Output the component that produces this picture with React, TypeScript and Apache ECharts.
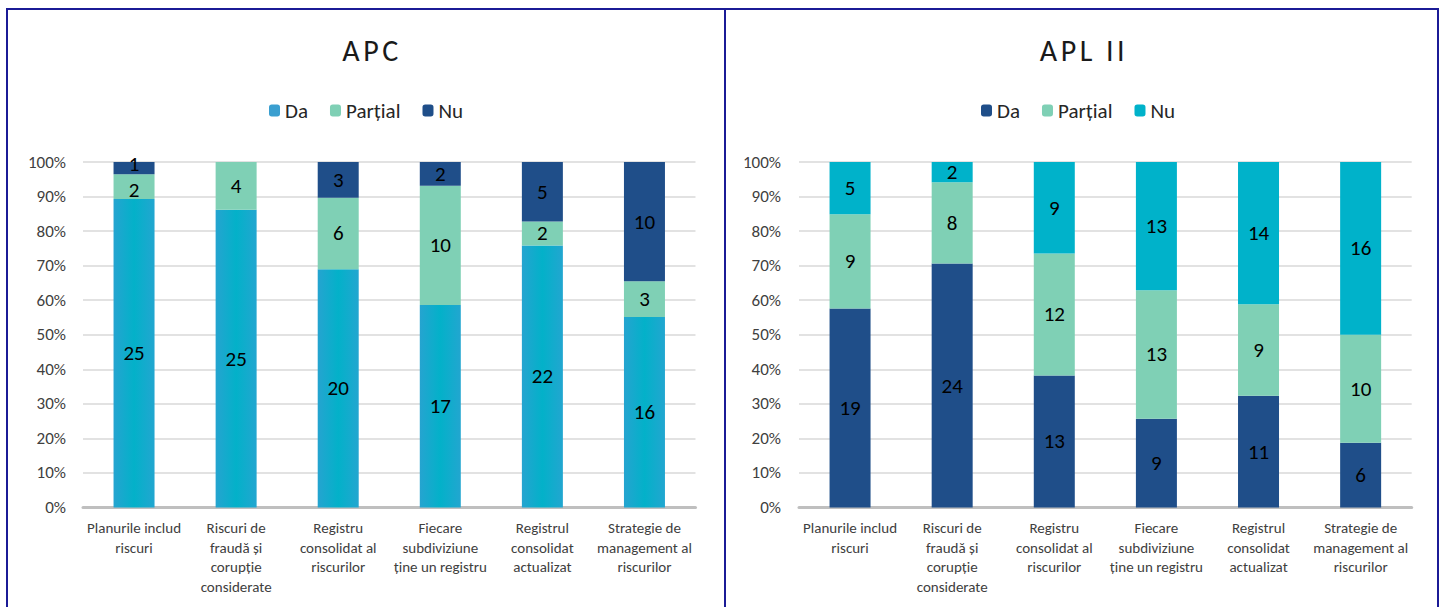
import React, { useEffect, useRef } from "react";
import * as echarts from "echarts";

const categories = [
  "Planurile includ\nriscuri",
  "Riscuri de\nfraudă și\ncorupție\nconsiderate",
  "Registru\nconsolidat al\nriscurilor",
  "Fiecare\nsubdiviziune\nține un registru",
  "Registrul\nconsolidat\nactualizat",
  "Strategie de\nmanagement al\nriscurilor",
];
const seriesNames = ["Da", "Parțial", "Nu"];

const apcDa = [25, 25, 20, 17, 22, 16];
const apcPartial = [2, 4, 6, 10, 2, 3];
const apcNu = [1, 0, 3, 2, 5, 10];

const aplDa = [19, 24, 13, 9, 11, 6];
const aplPartial = [9, 8, 12, 13, 9, 10];
const aplNu = [5, 2, 9, 13, 14, 16];

const FONT = "Carlito, Calibri, Lato, sans-serif";

type Layout = {
  title: string;
  titleX: number;
  legendLeft: number;
  gridLeft: number;
  gridRight: number;
  labelMargin: number;
};

function buildOption(
  layout: Layout,
  groups: number[][],
  colors: any[],
  legendColors: string[]
) {
  const totals = categories.map((_, i) =>
    groups.reduce((s, g) => s + g[i], 0)
  );
  const pctOf = (k: number, i: number) =>
    groups[k] ? (groups[k][i] / totals[i]) * 100 : 0;
  const series = groups.map((g, k) => ({
    name: seriesNames[k],
    type: "bar",
    stack: "total",
    barWidth: 41,
    data: g.map((v, i) => {
      const pct = pctOf(k, i);
      const above = pctOf(k + 1, i);
      // very thin segments: nudge neighbouring labels apart so they do not collide
      if (pct > 0 && pct < 4) return { value: pct, label: { offset: [0, -4] } };
      if (above > 0 && above < 4) return { value: pct, label: { offset: [0, 3] } };
      return pct;
    }),
    itemStyle: { color: colors[k] },
    label: {
      show: true,
      position: "inside",
      fontFamily: FONT,
      fontSize: 21,
      lineHeight: 16,
      color: "#000",
      formatter: (p: any) => (g[p.dataIndex] === 0 ? "" : String(g[p.dataIndex])),
    },
    emphasis: { disabled: true },
  }));
  return {
    animation: false,
    textStyle: { fontFamily: FONT },
    title: {
      text: layout.title,
      left: layout.titleX,
      textAlign: "center",
      top: 30,
      textStyle: {
        fontFamily: FONT,
        fontSize: 30,
        fontWeight: "normal",
        color: "#1a1a1a",
      },
    },
    legend: {
      left: layout.legendLeft,
      top: 95,
      itemWidth: 11,
      itemHeight: 12,
      itemGap: 22,
      textStyle: { fontFamily: FONT, fontSize: 21, color: "#262626" },
      data: seriesNames.map((n, k) => ({
        name: n,
        itemStyle: { color: legendColors[k] },
      })),
      selectedMode: false,
    },
    grid: {
      left: layout.gridLeft,
      right: layout.gridRight,
      top: 162,
      bottom: 99.5,
      containLabel: false,
    },
    xAxis: {
      type: "category",
      data: categories,
      axisTick: { show: false },
      axisLine: { lineStyle: { color: "#BFBFBF", width: 3 } },
      axisLabel: {
        interval: 0,
        fontFamily: FONT,
        fontSize: 15,
        lineHeight: 19.5,
        color: "#404040",
        margin: 11,
      },
    },
    yAxis: {
      type: "value",
      min: 0,
      max: 100,
      interval: 10,
      axisLine: { show: false },
      axisTick: { show: false },
      splitLine: { lineStyle: { color: "#D9D9D9", width: 1.5 } },
      axisLabel: {
        formatter: "{value}%",
        fontFamily: FONT,
        fontSize: 17,
        color: "#404040",
        margin: layout.labelMargin,
      },
    },
    series,
  };
}

function Chart({
  option,
  title,
  style,
}: {
  option: any;
  title: string;
  style: React.CSSProperties;
}) {
  const ref = useRef<HTMLDivElement>(null);
  useEffect(() => {
    if (!ref.current) return;
    const chart = echarts.init(ref.current, undefined, { renderer: "svg" });
    chart.setOption(option);
    // widen the title's character spacing, as in the reference
    const texts = ref.current.querySelectorAll("text");
    texts.forEach((t) => {
      if (t.textContent === title) {
        (t as SVGTextElement).style.letterSpacing = "3.5px";
      }
    });
    return () => chart.dispose();
  }, [option, title]);
  return <div ref={ref} style={style} />;
}

const daGradient = new echarts.graphic.LinearGradient(0, 0, 1, 0, [
  { offset: 0, color: "#25A4D0" },
  { offset: 0.5, color: "#03B1C9" },
  { offset: 1, color: "#22A6D0" },
]);

const leftOption = buildOption(
  {
    title: "APC",
    titleX: 367,
    legendLeft: 264,
    gridLeft: 83,
    gridRight: 29.5,
    labelMargin: 17,
  },
  [apcDa, apcPartial, apcNu],
  [daGradient, "#7FD0B5", "#1F4E89"],
  ["#3A9FD0", "#7FD0B5", "#1F4E89"]
);

const rightOption = buildOption(
  {
    title: "APL II",
    titleX: 354,
    legendLeft: 251,
    gridLeft: 74,
    gridRight: 32.3,
    labelMargin: 18,
  },
  [aplDa, aplPartial, aplNu],
  ["#1F4E89", "#7FD0B5", "#00B2CA"],
  ["#1F4E89", "#7FD0B5", "#00B2CA"]
);

export default function App() {
  return (
    <div
      style={{
        position: "fixed",
        left: 0,
        top: 0,
        width: 1444,
        height: 607,
        overflow: "hidden",
        background: "#fff",
      }}
    >
      <Chart
        option={leftOption}
        title="APC"
        style={{ position: "absolute", left: 0, top: 0, width: 725, height: 607 }}
      />
      <Chart
        option={rightOption}
        title="APL II"
        style={{ position: "absolute", left: 725, top: 0, width: 719, height: 607 }}
      />
      <div
        style={{
          position: "absolute",
          left: 6,
          top: 8,
          width: 720,
          height: 700,
          boxSizing: "border-box",
          borderLeft: "2px solid #1B1B96",
          borderTop: "2px solid #1B1B96",
          borderRight: "2px solid #1B1B96",
          pointerEvents: "none",
        }}
      />
      <div
        style={{
          position: "absolute",
          left: 724,
          top: 8,
          width: 715,
          height: 700,
          boxSizing: "border-box",
          borderLeft: "2px solid #1B1B96",
          borderTop: "2px solid #1B1B96",
          borderRight: "2px solid #1B1B96",
          pointerEvents: "none",
        }}
      />
    </div>
  );
}
